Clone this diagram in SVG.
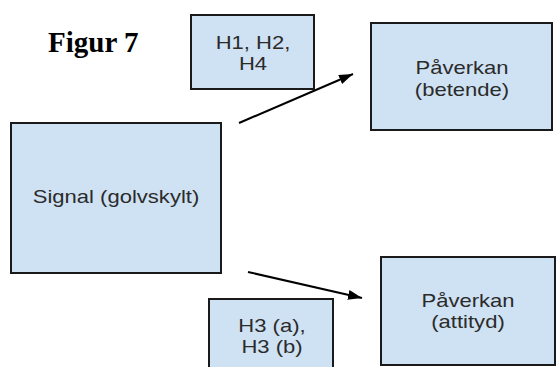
<svg xmlns="http://www.w3.org/2000/svg" width="558" height="367" viewBox="0 0 558 367">
<style>
.box{fill:#cfe2f3;stroke:#1a1a1a;stroke-width:2}
.lbl{font-family:"Liberation Sans",Arial,sans-serif;font-size:19px;fill:#2b2b2b;text-anchor:middle}
.conn{stroke:#000;stroke-width:2;fill:none}
.title{font-family:"Liberation Serif","Times New Roman",serif;font-size:29px;font-weight:bold;fill:#000}
</style>
<defs>
<marker id="arr" markerUnits="userSpaceOnUse" markerWidth="16" markerHeight="12" refX="14" refY="5" orient="auto">
<path d="M0,0 L14,5 L0,10 Z" fill="#000"/>
</marker>
</defs>
<rect width="558" height="367" fill="#fff"/>
<text class="title" x="48" y="52">Figur 7</text>
<g id="connectors">
<line class="conn" x1="239" y1="123" x2="353" y2="74" marker-end="url(#arr)"/>
<line class="conn" x1="248" y1="272" x2="362" y2="298" marker-end="url(#arr)"/>
</g>
<g id="h124">
<rect class="box" x="191" y="15" width="123" height="74"/>
<text class="lbl" transform="translate(253 49) scale(1.16 1)">H1, H2,</text>
<text class="lbl" transform="translate(253 70) scale(1.16 1)">H4</text>
</g>
<g id="paverkan-betende">
<rect class="box" x="371" y="23" width="181" height="107"/>
<text class="lbl" transform="translate(462 74) scale(1.16 1)">Påverkan</text>
<text class="lbl" transform="translate(462 96) scale(1.16 1)">(betende)</text>
</g>
<g id="signal">
<rect class="box" x="11" y="123" width="210" height="150"/>
<text class="lbl" transform="translate(116 203) scale(1.16 1)">Signal (golvskylt)</text>
</g>
<g id="paverkan-attityd">
<rect class="box" x="381" y="257" width="174" height="108"/>
<text class="lbl" transform="translate(468 307) scale(1.16 1)">Påverkan</text>
<text class="lbl" transform="translate(468 328) scale(1.16 1)">(attityd)</text>
</g>
<g id="h3">
<rect class="box" x="209" y="299" width="124" height="75"/>
<text class="lbl" transform="translate(272 332) scale(1.16 1)">H3 (a),</text>
<text class="lbl" transform="translate(272 353) scale(1.16 1)">H3 (b)</text>
</g>
</svg>
